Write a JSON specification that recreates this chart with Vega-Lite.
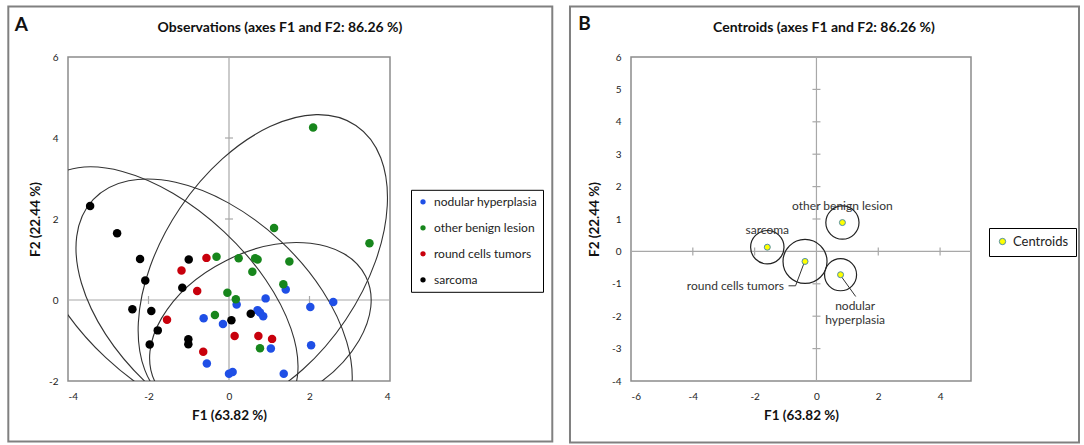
{
  "$schema": "https://vega.github.io/schema/vega-lite/v6.json",
  "background": "white",
  "padding": {"left": 6, "top": 4, "right": 0, "bottom": 0},
  "spacing": 13,
  "config": {
    "font": "Lato",
    "view": {"stroke": "#8c8c8c", "strokeWidth": 1.5},
    "axis": {"grid": false, "ticks": false, "domain": false, "labelFont": "Lato", "labelFontSize": 10, "labelColor": "#222222", "labelPadding": 10, "titleFont": "Lato", "titleFontSize": 13.5, "titleFontWeight": "bold", "titleColor": "#111111"},
    "title": {"font": "Lato", "fontSize": 14, "fontWeight": "bold", "color": "#111111"}
  },
  "resolve": {
    "scale": {"x": "independent", "y": "independent", "color": "independent", "fill": "independent", "size": "independent", "shape": "independent", "angle": "independent"},
    "legend": {"color": "independent", "fill": "independent"}
  },
  "datasets": {
    "obs": [
      {"group": "nodular hyperplasia", "x": 1.41, "y": 0.26},
      {"group": "nodular hyperplasia", "x": 0.91, "y": 0.04},
      {"group": "nodular hyperplasia", "x": 0.19, "y": -0.11},
      {"group": "nodular hyperplasia", "x": 2.02, "y": -0.17},
      {"group": "nodular hyperplasia", "x": 2.59, "y": -0.05},
      {"group": "nodular hyperplasia", "x": -0.63, "y": -0.45},
      {"group": "nodular hyperplasia", "x": -0.15, "y": -0.59},
      {"group": "nodular hyperplasia", "x": 0.71, "y": -0.25},
      {"group": "nodular hyperplasia", "x": 0.77, "y": -0.31},
      {"group": "nodular hyperplasia", "x": 0.85, "y": -0.40},
      {"group": "nodular hyperplasia", "x": 1.04, "y": -1.20},
      {"group": "nodular hyperplasia", "x": 2.04, "y": -1.12},
      {"group": "nodular hyperplasia", "x": -0.55, "y": -1.57},
      {"group": "nodular hyperplasia", "x": 0.00, "y": -1.82},
      {"group": "nodular hyperplasia", "x": 0.09, "y": -1.78},
      {"group": "nodular hyperplasia", "x": 1.36, "y": -1.82},
      {"group": "other benign lesion", "x": 2.09, "y": 4.26},
      {"group": "other benign lesion", "x": 3.49, "y": 1.40},
      {"group": "other benign lesion", "x": 1.12, "y": 1.78},
      {"group": "other benign lesion", "x": -0.31, "y": 1.07},
      {"group": "other benign lesion", "x": 0.24, "y": 1.03},
      {"group": "other benign lesion", "x": 0.65, "y": 1.03},
      {"group": "other benign lesion", "x": 0.71, "y": 1.00},
      {"group": "other benign lesion", "x": 1.50, "y": 0.95},
      {"group": "other benign lesion", "x": 0.58, "y": 0.70},
      {"group": "other benign lesion", "x": 1.35, "y": 0.39},
      {"group": "other benign lesion", "x": -0.04, "y": 0.18},
      {"group": "other benign lesion", "x": 0.17, "y": 0.02},
      {"group": "other benign lesion", "x": -0.35, "y": -0.37},
      {"group": "other benign lesion", "x": 0.77, "y": -1.19},
      {"group": "round cells tumors", "x": -0.56, "y": 1.04},
      {"group": "round cells tumors", "x": -1.18, "y": 0.73},
      {"group": "round cells tumors", "x": -0.79, "y": 0.22},
      {"group": "round cells tumors", "x": -1.54, "y": -0.49},
      {"group": "round cells tumors", "x": -0.64, "y": -1.28},
      {"group": "round cells tumors", "x": 0.14, "y": -0.89},
      {"group": "round cells tumors", "x": 0.73, "y": -0.89},
      {"group": "round cells tumors", "x": 1.07, "y": -0.96},
      {"group": "sarcoma", "x": -3.45, "y": 2.32},
      {"group": "sarcoma", "x": -2.78, "y": 1.65},
      {"group": "sarcoma", "x": -2.21, "y": 1.01},
      {"group": "sarcoma", "x": -2.08, "y": 0.48},
      {"group": "sarcoma", "x": -2.40, "y": -0.23},
      {"group": "sarcoma", "x": -1.93, "y": -0.27},
      {"group": "sarcoma", "x": -1.77, "y": -0.75},
      {"group": "sarcoma", "x": -1.97, "y": -1.10},
      {"group": "sarcoma", "x": -1.00, "y": 1.00},
      {"group": "sarcoma", "x": -1.16, "y": 0.30},
      {"group": "sarcoma", "x": -1.01, "y": -0.97},
      {"group": "sarcoma", "x": -1.01, "y": -1.09},
      {"group": "sarcoma", "x": 0.06, "y": -0.50},
      {"group": "sarcoma", "x": 0.54, "y": -0.34}
    ],
    "classes": [
      {"group": "nodular hyperplasia", "x": 0.78, "y": -0.72, "a": 2.92, "theta": 26.7, "r": 0.518},
      {"group": "other benign lesion", "x": 0.84, "y": 0.89, "a": 4.135, "theta": 56.1, "r": 0.537},
      {"group": "round cells tumors", "x": -0.37, "y": -0.31, "a": 4.10, "theta": -43, "r": 0.712},
      {"group": "sarcoma", "x": -1.59, "y": 0.13, "a": 4.04, "theta": -43, "r": 0.54}
    ],
    "ticksA_F2": [{"t": 2}, {"t": 4}],
    "ticksA_F1": [{"t": -2}, {"t": 2}],
    "ticksB_F2": [{"t": -3}, {"t": -2}, {"t": -1}, {"t": 1}, {"t": 2}, {"t": 3}, {"t": 4}, {"t": 5}],
    "ticksB_F1": [{"t": -4}, {"t": -2}, {"t": 2}, {"t": 4}]
  },
  "hconcat": [
    {
      "width": 322,
      "height": 324,
      "title": {"text": "Observations (axes F1 and F2: 86.26 %)", "offset": -30, "dx": 51},
      "layer": [
        {
          "data": {"values": [{}]},
          "mark": {"type": "rect", "fill": "transparent", "stroke": "#808080", "strokeWidth": 2},
          "encoding": {
            "x": {"datum": -5.483, "type": "quantitative", "scale": {"domain": [-4, 4], "nice": false, "zero": false}, "axis": {"values": [-4, -2, 0, 2, 4], "titlePadding": 7, "labelExpr": "'' + datum.value"}, "title": "F1 (63.82 %)"},
            "x2": {"datum": 8.032},
            "y": {"datum": 7.247, "type": "quantitative", "scale": {"domain": [-2, 6], "nice": false, "zero": false}, "axis": {"values": [-2, 0, 2, 4, 6], "titlePadding": 6, "labelExpr": "'' + datum.value"}, "title": "F2 (22.44 %)"},
            "y2": {"datum": -3.494}
          }
        },
        {
          "data": {"values": [{}]},
          "mark": {"type": "text", "text": "A", "fontSize": 19, "fontWeight": "bold", "align": "center", "baseline": "middle", "color": "#111111"},
          "encoding": {
            "x": {"datum": -5.16, "type": "quantitative", "scale": {"domain": [-4, 4], "nice": false, "zero": false}, "axis": {"values": [-4, -2, 0, 2, 4], "titlePadding": 7, "labelExpr": "'' + datum.value"}, "title": "F1 (63.82 %)"},
            "y": {"datum": 6.802, "type": "quantitative", "scale": {"domain": [-2, 6], "nice": false, "zero": false}, "axis": {"values": [-2, 0, 2, 4, 6], "titlePadding": 6, "labelExpr": "'' + datum.value"}, "title": "F2 (22.44 %)"}
          }
        },
        {
          "data": {"values": [{}]},
          "mark": {"type": "rule", "color": "#a8a8a8", "strokeWidth": 1.2},
          "encoding": {
            "x": {"datum": 0, "type": "quantitative", "scale": {"domain": [-4, 4], "nice": false, "zero": false}, "axis": {"values": [-4, -2, 0, 2, 4], "titlePadding": 7, "labelExpr": "'' + datum.value"}, "title": "F1 (63.82 %)"}
          }
        },
        {
          "data": {"values": [{}]},
          "mark": {"type": "rule", "color": "#a8a8a8", "strokeWidth": 1.2},
          "encoding": {
            "y": {"datum": 0, "type": "quantitative", "scale": {"domain": [-2, 6], "nice": false, "zero": false}, "axis": {"values": [-2, 0, 2, 4, 6], "titlePadding": 6, "labelExpr": "'' + datum.value"}, "title": "F2 (22.44 %)"}
          }
        },
        {
          "data": {"name": "ticksA_F2"},
          "mark": {"type": "tick", "orient": "horizontal", "size": 8, "thickness": 1.2, "color": "#a8a8a8", "opacity": 1},
          "encoding": {
            "x": {"datum": 0, "type": "quantitative", "scale": {"domain": [-4, 4], "nice": false, "zero": false}, "axis": {"values": [-4, -2, 0, 2, 4], "titlePadding": 7, "labelExpr": "'' + datum.value"}, "title": "F1 (63.82 %)"},
            "y": {"field": "t", "type": "quantitative", "scale": {"domain": [-2, 6], "nice": false, "zero": false}, "axis": {"values": [-2, 0, 2, 4, 6], "titlePadding": 6, "labelExpr": "'' + datum.value"}, "title": "F2 (22.44 %)"}
          }
        },
        {
          "data": {"name": "ticksA_F1"},
          "mark": {"type": "tick", "orient": "vertical", "size": 8, "thickness": 1.2, "color": "#a8a8a8", "opacity": 1},
          "encoding": {
            "x": {"field": "t", "type": "quantitative", "scale": {"domain": [-4, 4], "nice": false, "zero": false}, "axis": {"values": [-4, -2, 0, 2, 4], "titlePadding": 7, "labelExpr": "'' + datum.value"}, "title": "F1 (63.82 %)"},
            "y": {"datum": 0, "type": "quantitative", "scale": {"domain": [-2, 6], "nice": false, "zero": false}, "axis": {"values": [-2, 0, 2, 4, 6], "titlePadding": 6, "labelExpr": "'' + datum.value"}, "title": "F2 (22.44 %)"}
          }
        },
        {
          "data": {"name": "classes"},
          "mark": {"type": "point", "filled": false, "color": "#333333", "strokeWidth": 1.1, "opacity": 1, "clip": true},
          "encoding": {
            "x": {"field": "x", "type": "quantitative", "scale": {"domain": [-4, 4], "nice": false, "zero": false}, "axis": {"values": [-4, -2, 0, 2, 4], "titlePadding": 7, "labelExpr": "'' + datum.value"}, "title": "F1 (63.82 %)"},
            "y": {"field": "y", "type": "quantitative", "scale": {"domain": [-2, 6], "nice": false, "zero": false}, "axis": {"values": [-2, 0, 2, 4, 6], "titlePadding": 6, "labelExpr": "'' + datum.value"}, "title": "F2 (22.44 %)"},
            "shape": {
              "field": "group", "type": "nominal", "legend": null,
              "scale": {
                "domain": ["sarcoma", "round cells tumors", "other benign lesion", "nodular hyperplasia"],
                "range": [
                  "M1,0C1,0.2927 0.5523,0.53 0,0.53C-0.5523,0.53 -1,0.2927 -1,0C-1,-0.2927 -0.5523,-0.53 0,-0.53C0.5523,-0.53 1,-0.2927 1,0Z",
                  "M1,0C1,0.3259 0.5523,0.59 0,0.59C-0.5523,0.59 -1,0.3259 -1,0C-1,-0.3259 -0.5523,-0.59 0,-0.59C0.5523,-0.59 1,-0.3259 1,0Z",
                  "M1,0C1,0.3308 0.5523,0.599 0,0.599C-0.5523,0.599 -1,0.3308 -1,0C-1,-0.3308 -0.5523,-0.599 0,-0.599C0.5523,-0.599 1,-0.3308 1,0Z",
                  "M1,0C1,0.3595 0.5523,0.651 0,0.651C-0.5523,0.651 -1,0.3595 -1,0C-1,-0.3595 -0.5523,-0.651 0,-0.651C0.5523,-0.651 1,-0.3595 1,0Z"
                ]
              }
            },
            "size": {"field": "a", "type": "quantitative", "legend": null, "scale": {"type": "pow", "exponent": 2, "domain": [0, 4], "range": [0, 104200]}},
            "angle": {"field": "theta", "type": "quantitative", "legend": null, "scale": {"domain": [-90, 90], "range": [90, -90]}}
          }
        },
        {
          "data": {"name": "obs"},
          "mark": {"type": "circle", "size": 72, "opacity": 1},
          "encoding": {
            "x": {"field": "x", "type": "quantitative", "scale": {"domain": [-4, 4], "nice": false, "zero": false}, "axis": {"values": [-4, -2, 0, 2, 4], "titlePadding": 7, "labelExpr": "'' + datum.value"}, "title": "F1 (63.82 %)"},
            "y": {"field": "y", "type": "quantitative", "scale": {"domain": [-2, 6], "nice": false, "zero": false}, "axis": {"values": [-2, 0, 2, 4, 6], "titlePadding": 6, "labelExpr": "'' + datum.value"}, "title": "F2 (22.44 %)"},
            "color": {
              "field": "group", "type": "nominal",
              "scale": {"domain": ["nodular hyperplasia", "other benign lesion", "round cells tumors", "sarcoma"], "range": ["#1f4fe6", "#17861c", "#c8000c", "#000000"]},
              "legend": {"title": null, "orient": "none", "legendX": 343, "legendY": 132.8, "strokeColor": "#000000", "fillColor": "white", "padding": 6, "labelFont": "Lato", "labelFontSize": 12, "labelColor": "#222222", "symbolType": "circle", "symbolSize": 28, "rowPadding": 14, "labelOffset": 5}
            }
          }
        }
      ]
    },
    {
      "width": 340,
      "height": 324,
      "title": {"text": "Centroids (axes F1 and F2: 86.26 %)", "offset": -30, "dx": 23},
      "layer": [
        {
          "data": {"values": [{}]},
          "mark": {"type": "rect", "fill": "transparent", "stroke": "#808080", "strokeWidth": 2},
          "encoding": {
            "x": {"datum": -7.974, "type": "quantitative", "scale": {"domain": [-6, 5], "nice": false, "zero": false}, "axis": {"values": [-6, -4, -2, 0, 2, 4], "titlePadding": 7, "labelExpr": "'' + datum.value"}, "title": "F1 (63.82 %)"},
            "x2": {"datum": 8.494},
            "y": {"datum": 7.559, "type": "quantitative", "scale": {"domain": [-4, 6], "nice": false, "zero": false}, "axis": {"values": [-4, -3, -2, -1, 0, 1, 2, 3, 4, 5, 6], "titlePadding": 10, "labelExpr": "'' + datum.value"}, "title": "F2 (22.44 %)"},
            "y2": {"datum": -5.898}
          }
        },
        {
          "data": {"values": [{}]},
          "mark": {"type": "text", "text": "B", "fontSize": 19, "fontWeight": "bold", "align": "center", "baseline": "middle", "color": "#111111"},
          "encoding": {
            "x": {"datum": -7.504, "type": "quantitative", "scale": {"domain": [-6, 5], "nice": false, "zero": false}, "axis": {"values": [-6, -4, -2, 0, 2, 4], "titlePadding": 7, "labelExpr": "'' + datum.value"}, "title": "F1 (63.82 %)"},
            "y": {"datum": 7.019, "type": "quantitative", "scale": {"domain": [-4, 6], "nice": false, "zero": false}, "axis": {"values": [-4, -3, -2, -1, 0, 1, 2, 3, 4, 5, 6], "titlePadding": 10, "labelExpr": "'' + datum.value"}, "title": "F2 (22.44 %)"}
          }
        },
        {
          "data": {"values": [{}]},
          "mark": {"type": "rule", "color": "#a8a8a8", "strokeWidth": 1.2},
          "encoding": {
            "x": {"datum": 0, "type": "quantitative", "scale": {"domain": [-6, 5], "nice": false, "zero": false}, "axis": {"values": [-6, -4, -2, 0, 2, 4], "titlePadding": 7, "labelExpr": "'' + datum.value"}, "title": "F1 (63.82 %)"}
          }
        },
        {
          "data": {"values": [{}]},
          "mark": {"type": "rule", "color": "#a8a8a8", "strokeWidth": 1.2},
          "encoding": {
            "y": {"datum": 0, "type": "quantitative", "scale": {"domain": [-4, 6], "nice": false, "zero": false}, "axis": {"values": [-4, -3, -2, -1, 0, 1, 2, 3, 4, 5, 6], "titlePadding": 10, "labelExpr": "'' + datum.value"}, "title": "F2 (22.44 %)"}
          }
        },
        {
          "data": {"name": "ticksB_F2"},
          "mark": {"type": "tick", "orient": "horizontal", "size": 8, "thickness": 1.2, "color": "#a8a8a8", "opacity": 1},
          "encoding": {
            "x": {"datum": 0, "type": "quantitative", "scale": {"domain": [-6, 5], "nice": false, "zero": false}, "axis": {"values": [-6, -4, -2, 0, 2, 4], "titlePadding": 7, "labelExpr": "'' + datum.value"}, "title": "F1 (63.82 %)"},
            "y": {"field": "t", "type": "quantitative", "scale": {"domain": [-4, 6], "nice": false, "zero": false}, "axis": {"values": [-4, -3, -2, -1, 0, 1, 2, 3, 4, 5, 6], "titlePadding": 10, "labelExpr": "'' + datum.value"}, "title": "F2 (22.44 %)"}
          }
        },
        {
          "data": {"name": "ticksB_F1"},
          "mark": {"type": "tick", "orient": "vertical", "size": 8, "thickness": 1.2, "color": "#a8a8a8", "opacity": 1},
          "encoding": {
            "x": {"field": "t", "type": "quantitative", "scale": {"domain": [-6, 5], "nice": false, "zero": false}, "axis": {"values": [-6, -4, -2, 0, 2, 4], "titlePadding": 7, "labelExpr": "'' + datum.value"}, "title": "F1 (63.82 %)"},
            "y": {"datum": 0, "type": "quantitative", "scale": {"domain": [-4, 6], "nice": false, "zero": false}, "axis": {"values": [-4, -3, -2, -1, 0, 1, 2, 3, 4, 5, 6], "titlePadding": 10, "labelExpr": "'' + datum.value"}, "title": "F2 (22.44 %)"}
          }
        },
        {
          "data": {"name": "classes"},
          "mark": {"type": "point", "shape": "circle", "filled": false, "color": "#222222", "strokeWidth": 1.2, "opacity": 1},
          "encoding": {
            "x": {"field": "x", "type": "quantitative", "scale": {"domain": [-6, 5], "nice": false, "zero": false}, "axis": {"values": [-6, -4, -2, 0, 2, 4], "titlePadding": 7, "labelExpr": "'' + datum.value"}, "title": "F1 (63.82 %)"},
            "y": {"field": "y", "type": "quantitative", "scale": {"domain": [-4, 6], "nice": false, "zero": false}, "axis": {"values": [-4, -3, -2, -1, 0, 1, 2, 3, 4, 5, 6], "titlePadding": 10, "labelExpr": "'' + datum.value"}, "title": "F2 (22.44 %)"},
            "size": {"field": "r", "type": "quantitative", "legend": null, "scale": {"type": "pow", "exponent": 2, "domain": [0, 1], "range": [0, 3821.5]}}
          }
        },
        {
          "data": {"values": [{}]},
          "mark": {"type": "rule", "color": "#333333", "strokeWidth": 1},
          "encoding": {
            "x": {"datum": -0.903, "type": "quantitative", "scale": {"domain": [-6, 5], "nice": false, "zero": false}, "axis": {"values": [-6, -4, -2, 0, 2, 4], "titlePadding": 7, "labelExpr": "'' + datum.value"}, "title": "F1 (63.82 %)"},
            "x2": {"datum": -0.676},
            "y": {"datum": -1.062, "type": "quantitative", "scale": {"domain": [-4, 6], "nice": false, "zero": false}, "axis": {"values": [-4, -3, -2, -1, 0, 1, 2, 3, 4, 5, 6], "titlePadding": 10, "labelExpr": "'' + datum.value"}, "title": "F2 (22.44 %)"},
            "y2": {"datum": -1.062}
          }
        },
        {
          "data": {"values": [{}]},
          "mark": {"type": "rule", "color": "#333333", "strokeWidth": 1},
          "encoding": {
            "x": {"datum": -0.676, "type": "quantitative", "scale": {"domain": [-6, 5], "nice": false, "zero": false}, "axis": {"values": [-6, -4, -2, 0, 2, 4], "titlePadding": 7, "labelExpr": "'' + datum.value"}, "title": "F1 (63.82 %)"},
            "x2": {"datum": -0.403},
            "y": {"datum": -1.062, "type": "quantitative", "scale": {"domain": [-4, 6], "nice": false, "zero": false}, "axis": {"values": [-4, -3, -2, -1, 0, 1, 2, 3, 4, 5, 6], "titlePadding": 10, "labelExpr": "'' + datum.value"}, "title": "F2 (22.44 %)"},
            "y2": {"datum": -0.364}
          }
        },
        {
          "data": {"values": [{}]},
          "mark": {"type": "rule", "color": "#333333", "strokeWidth": 1},
          "encoding": {
            "x": {"datum": 0.804, "type": "quantitative", "scale": {"domain": [-6, 5], "nice": false, "zero": false}, "axis": {"values": [-6, -4, -2, 0, 2, 4], "titlePadding": 7, "labelExpr": "'' + datum.value"}, "title": "F1 (63.82 %)"},
            "x2": {"datum": 1.27},
            "y": {"datum": -0.775, "type": "quantitative", "scale": {"domain": [-4, 6], "nice": false, "zero": false}, "axis": {"values": [-4, -3, -2, -1, 0, 1, 2, 3, 4, 5, 6], "titlePadding": 10, "labelExpr": "'' + datum.value"}, "title": "F2 (22.44 %)"},
            "y2": {"datum": -1.392}
          }
        },
        {
          "data": {"name": "classes"},
          "mark": {"type": "point", "shape": "circle", "filled": true, "stroke": "#4f8ea8", "strokeWidth": 1, "size": 36, "opacity": 1},
          "encoding": {
            "x": {"field": "x", "type": "quantitative", "scale": {"domain": [-6, 5], "nice": false, "zero": false}, "axis": {"values": [-6, -4, -2, 0, 2, 4], "titlePadding": 7, "labelExpr": "'' + datum.value"}, "title": "F1 (63.82 %)"},
            "y": {"field": "y", "type": "quantitative", "scale": {"domain": [-4, 6], "nice": false, "zero": false}, "axis": {"values": [-4, -3, -2, -1, 0, 1, 2, 3, 4, 5, 6], "titlePadding": 10, "labelExpr": "'' + datum.value"}, "title": "F2 (22.44 %)"},
            "fill": {
              "datum": "Centroids", "type": "nominal",
              "scale": {"domain": ["Centroids"], "range": ["#ffff00"]},
              "legend": {"title": null, "orient": "none", "legendX": 358, "legendY": 171, "strokeColor": "#000000", "fillColor": "white", "padding": 7, "labelFont": "Lato", "labelFontSize": 13, "labelColor": "#222222", "symbolType": "circle", "symbolSize": 40, "symbolStrokeColor": "#4f8ea8", "symbolStrokeWidth": 1, "labelOffset": 4}
            }
          }
        },
        {
          "data": {"name": "classes"},
          "transform": [{"filter": {"field": "group", "oneOf": ["sarcoma", "other benign lesion"]}}],
          "mark": {"type": "text", "fontSize": 12, "color": "#333333", "align": "center", "baseline": "middle", "dy": -17},
          "encoding": {
            "x": {"field": "x", "type": "quantitative", "scale": {"domain": [-6, 5], "nice": false, "zero": false}, "axis": {"values": [-6, -4, -2, 0, 2, 4], "titlePadding": 7, "labelExpr": "'' + datum.value"}, "title": "F1 (63.82 %)"},
            "y": {"field": "y", "type": "quantitative", "scale": {"domain": [-4, 6], "nice": false, "zero": false}, "axis": {"values": [-4, -3, -2, -1, 0, 1, 2, 3, 4, 5, 6], "titlePadding": 10, "labelExpr": "'' + datum.value"}, "title": "F2 (22.44 %)"},
            "text": {"field": "group", "type": "nominal"}
          }
        },
        {
          "data": {"name": "classes"},
          "transform": [{"filter": {"field": "group", "equal": "round cells tumors"}}],
          "mark": {"type": "text", "fontSize": 12, "color": "#333333", "align": "right", "baseline": "middle", "dx": -21, "dy": 25},
          "encoding": {
            "x": {"field": "x", "type": "quantitative", "scale": {"domain": [-6, 5], "nice": false, "zero": false}, "axis": {"values": [-6, -4, -2, 0, 2, 4], "titlePadding": 7, "labelExpr": "'' + datum.value"}, "title": "F1 (63.82 %)"},
            "y": {"field": "y", "type": "quantitative", "scale": {"domain": [-4, 6], "nice": false, "zero": false}, "axis": {"values": [-4, -3, -2, -1, 0, 1, 2, 3, 4, 5, 6], "titlePadding": 10, "labelExpr": "'' + datum.value"}, "title": "F2 (22.44 %)"},
            "text": {"field": "group", "type": "nominal"}
          }
        },
        {
          "data": {"name": "classes"},
          "transform": [{"filter": {"field": "group", "equal": "nodular hyperplasia"}}],
          "mark": {"type": "text", "fontSize": 12, "color": "#333333", "align": "center", "baseline": "top", "dx": 14.6, "dy": 26, "lineBreak": " ", "lineHeight": 14.7},
          "encoding": {
            "x": {"field": "x", "type": "quantitative", "scale": {"domain": [-6, 5], "nice": false, "zero": false}, "axis": {"values": [-6, -4, -2, 0, 2, 4], "titlePadding": 7, "labelExpr": "'' + datum.value"}, "title": "F1 (63.82 %)"},
            "y": {"field": "y", "type": "quantitative", "scale": {"domain": [-4, 6], "nice": false, "zero": false}, "axis": {"values": [-4, -3, -2, -1, 0, 1, 2, 3, 4, 5, 6], "titlePadding": 10, "labelExpr": "'' + datum.value"}, "title": "F2 (22.44 %)"},
            "text": {"field": "group", "type": "nominal"}
          }
        }
      ]
    }
  ]
}
